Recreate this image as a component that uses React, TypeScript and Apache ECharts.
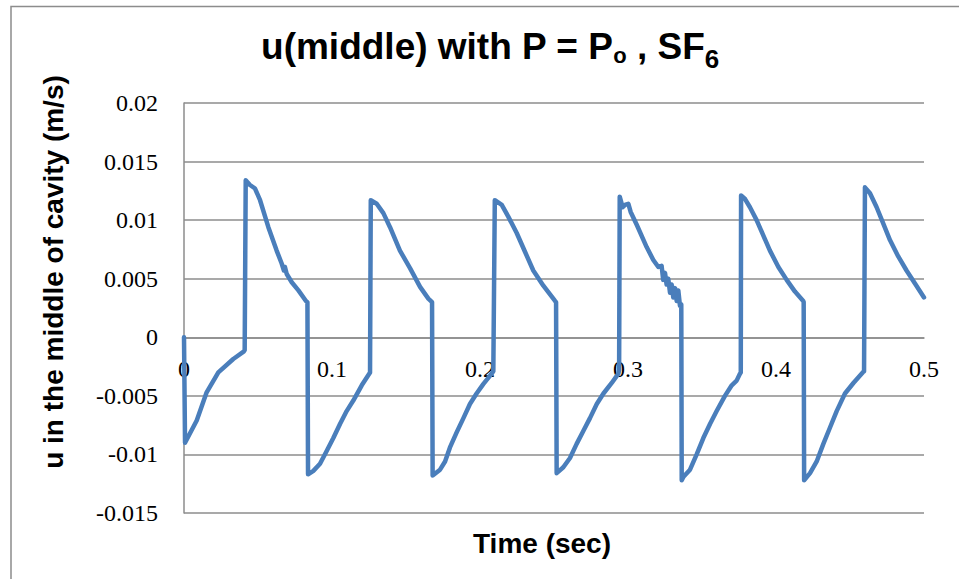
import { useEffect, useRef } from "react";
import * as echarts from "echarts";

// Velocity in the middle of the cavity over time (SF6, P = Po)
const timeSec: number[] = [
  0, 0.0007, 0.0086, 0.0153, 0.0232, 0.0333, 0.0405, 0.041,
  0.0417, 0.0446, 0.048, 0.0514, 0.057, 0.0626, 0.066, 0.0675, 0.0682, 0.0694, 0.0728, 0.0773, 0.0824, 0.0834,
  0.0838, 0.0874, 0.0919, 0.0964, 0.1009, 0.1054, 0.1099, 0.1144, 0.1201, 0.1257,
  0.1262, 0.1302, 0.1347, 0.1392, 0.1459, 0.1527, 0.1595, 0.1651, 0.1676,
  0.168, 0.173, 0.1764, 0.1797, 0.1843, 0.1888, 0.1932, 0.1977, 0.2022, 0.2079, 0.209,
  0.21, 0.2147, 0.2191, 0.2248, 0.2304, 0.236, 0.2428, 0.2507, 0.2514,
  0.2518, 0.2563, 0.2608, 0.2653, 0.2698, 0.2743, 0.2789, 0.2834, 0.289, 0.2935, 0.294,
  0.2944, 0.2964, 0.298, 0.3002, 0.3018, 0.3059, 0.3126, 0.3171, 0.3205,
  0.3227, 0.3238, 0.325, 0.3261, 0.3272, 0.3284, 0.3295, 0.3306, 0.3318, 0.3329, 0.334, 0.3351, 0.336,
  0.3363, 0.3375, 0.3419, 0.3464, 0.3509, 0.3554, 0.3599, 0.3655, 0.3701, 0.3734, 0.3757, 0.3762,
  0.3764, 0.3791, 0.3824, 0.3869, 0.3914, 0.3959, 0.4016, 0.4072, 0.4128, 0.4184, 0.4187,
  0.419, 0.423, 0.4275, 0.432, 0.4365, 0.441, 0.4466, 0.4523, 0.4586, 0.4595,
  0.4601, 0.4635, 0.468, 0.4725, 0.477, 0.4826, 0.4882, 0.4939, 0.5,
];

const uMiddle: number[] = [
  0, -0.009, -0.0071, -0.0047, -0.003, -0.00185, -0.0012, -0.0011,
  0.0134, 0.013, 0.0127, 0.0117, 0.0094, 0.0074, 0.0063, 0.0057, 0.006, 0.0054, 0.0047, 0.004, 0.0031, 0.003,
  -0.0117, -0.0114, -0.0108, -0.0097, -0.0086, -0.0074, -0.0063, -0.0054, -0.0041, -0.003,
  0.0117, 0.0114, 0.0106, 0.0094, 0.0074, 0.0059, 0.0043, 0.0033, 0.003,
  -0.0118, -0.0113, -0.0106, -0.0094, -0.0081, -0.0069, -0.0057, -0.0048, -0.004, -0.0031, -0.0029,
  0.0117, 0.0113, 0.0103, 0.0089, 0.0073, 0.0057, 0.0044, 0.0031, 0.003,
  -0.0116, -0.0111, -0.0103, -0.0091, -0.008, -0.0069, -0.0057, -0.0048, -0.0039, -0.0031, -0.0028,
  0.012, 0.0111, 0.0113, 0.0114, 0.0107, 0.0096, 0.0077, 0.0066, 0.006,
  0.0061, 0.0049, 0.0055, 0.0045, 0.005, 0.0038, 0.0045, 0.0034, 0.0042, 0.0031, 0.004, 0.0027, 0.0028,
  -0.0122, -0.0119, -0.0113, -0.01, -0.0086, -0.0074, -0.0063, -0.005, -0.0041, -0.0037, -0.0031, -0.003,
  0.0121, 0.0118, 0.0111, 0.01, 0.0087, 0.0074, 0.006, 0.0049, 0.0039, 0.0031, 0.003,
  -0.0122, -0.0116, -0.0106, -0.0091, -0.0077, -0.0063, -0.0048, -0.0039, -0.003, -0.0029,
  0.0128, 0.0123, 0.0111, 0.0097, 0.0083, 0.0069, 0.0057, 0.0046, 0.0034,
];

const X_MIN = 0;
const X_MAX = 0.5;
const X_STEP = 0.1;
const Y_MIN = -0.015;
const Y_MAX = 0.02;
const Y_STEP = 0.005;

const GRID = { left: 184, right: 35, top: 103, bottom: 66 };
const PLOT_HEIGHT = 579 - GRID.top - GRID.bottom;
// the horizontal axis crosses the vertical one at u = 0
const X_AXIS_SHIFT = -((0 - Y_MIN) / (Y_MAX - Y_MIN)) * PLOT_HEIGHT;

const GRID_COLOR = "#8c8c8c";
const LINE_COLOR = "#4a7ebb";
const SANS = "'Liberation Sans', Arial, sans-serif";
const SERIF = "'Liberation Serif', 'Times New Roman', serif";

const fmt = (v: number) => String(parseFloat(v.toFixed(4)));

export default function App() {
  const ref = useRef<HTMLDivElement>(null);

  useEffect(() => {
    if (!ref.current) return;
    const chart = echarts.init(ref.current, null, { renderer: "svg" });
    const data = timeSec.map((t, i) => [t, uMiddle[i]]);

    chart.setOption({
      animation: false,
      backgroundColor: "#ffffff",
      grid: GRID,
      xAxis: {
        type: "value",
        min: X_MIN,
        max: X_MAX,
        interval: X_STEP,
        offset: X_AXIS_SHIFT,
        axisLine: { show: true, onZero: false, lineStyle: { color: GRID_COLOR, width: 1.5 } },
        axisTick: { show: false },
        splitLine: { show: false },
        axisLabel: {
          margin: 20,
          color: "#000",
          fontFamily: SERIF,
          fontSize: 24,
          showMinLabel: true,
          showMaxLabel: true,
          formatter: (v: number) => fmt(v),
        },
      },
      yAxis: {
        type: "value",
        min: Y_MIN,
        max: Y_MAX,
        interval: Y_STEP,
        axisLine: { show: true, onZero: false, lineStyle: { color: GRID_COLOR, width: 1.5 } },
        axisTick: { show: false },
        splitLine: { show: true, lineStyle: { color: GRID_COLOR, width: 1.5 } },
        axisLabel: {
          margin: 26,
          color: "#000",
          fontFamily: SERIF,
          fontSize: 24,
          formatter: (v: number) => fmt(v),
        },
      },
      series: [
        {
          type: "line",
          data,
          showSymbol: false,
          symbol: "none",
          lineStyle: { color: LINE_COLOR, width: 4.5, join: "round", cap: "round" },
        },
      ],
      graphic: [
        {
          type: "rect",
          silent: true,
          z: -10,
          shape: { x: 11, y: 6.5, width: 1000, height: 700 },
          style: { fill: "none", stroke: GRID_COLOR, lineWidth: 1.5 },
        },
        {
          type: "text",
          x: 490,
          y: 46,
          style: {
            text: "{a|u(middle) with P = P}{o|o}{a| , SF}{n|6}",
            textAlign: "center",
            textVerticalAlign: "middle",
            rich: {
              a: { fontFamily: SANS, fontWeight: "bold", fontSize: 37, lineHeight: 40, fill: "#000", verticalAlign: "middle" },
              o: { fontFamily: SANS, fontWeight: "bold", fontSize: 22, height: 21, lineHeight: 21, fill: "#000", verticalAlign: "bottom" },
              n: { fontFamily: SANS, fontWeight: "bold", fontSize: 26, height: 14, lineHeight: 14, fill: "#000", verticalAlign: "bottom" },
            },
          },
        },
        {
          type: "text",
          x: 53,
          y: 272,
          rotation: Math.PI / 2,
          style: {
            text: "u in the middle of cavity (m/s)",
            fontFamily: SANS,
            fontWeight: "bold",
            fontSize: 28,
            fill: "#000",
            textAlign: "center",
            textVerticalAlign: "middle",
          },
        },
        {
          type: "text",
          x: 542,
          y: 543,
          style: {
            text: "Time (sec)",
            fontFamily: SANS,
            fontWeight: "bold",
            fontSize: 28,
            fill: "#000",
            textAlign: "center",
            textVerticalAlign: "middle",
          },
        },
      ],
    });

    return () => chart.dispose();
  }, []);

  return (
    <div
      ref={ref}
      style={{ position: "absolute", left: 0, top: 0, width: 959, height: 579, background: "#fff" }}
    />
  );
}
